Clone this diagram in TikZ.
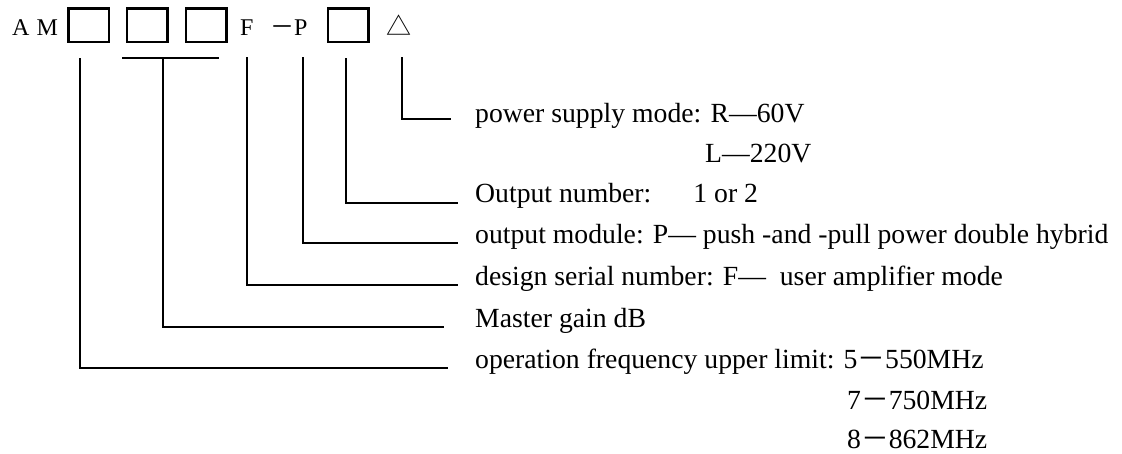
\documentclass[tikz,border=0pt]{standalone}
\usepackage{fontspec}
\setmainfont{Liberation Serif}
\newfontfamily\cjk{Noto Sans CJK SC}
\usetikzlibrary{calc}
\begin{document}
\begin{tikzpicture}[x=1pt,y=1pt,
  code/.style={draw, line width=2.5pt, minimum width=40.5pt, minimum height=33.5pt, inner sep=0pt},
  toptext/.style={anchor=base west, inner sep=0pt, font=\fontsize{24}{30}\selectfont},
  lbl/.style={anchor=base west, inner sep=0pt, font=\fontsize{27.7}{33}\selectfont},
  conn/.style={line width=1.8pt}]
\useasboundingbox (0,0) rectangle (1122,-453);
% code row
\node[toptext] (am) at (12,-35) {A\hspace{7pt}M};
\node[code] (b1) at (88.5,-25) {};
\node[code] (b2) at (147,-25) {};
\node[code] (b3) at (206,-25) {};
\node[toptext] (f) at (240,-35) {F};
\node[toptext] (p) at (270,-35) {{\cjk －}P};
\node[code] (b4) at (348,-25) {};
\node[toptext] (tri) at (386,-35) {{\fontsize{25}{30}\selectfont\cjk △}};
% labels
\node[lbl] (pw) at (475,-122) {power supply mode: R—60V};
\node[lbl] (pw2) at (705,-162) {L—220V};
\node[lbl] (on) at (475,-202) {Output number:\hspace{42pt}1 or 2};
\node[lbl] (om) at (475,-243) {output module: P— push -and -pull power double hybrid};
\node[lbl] (ds) at (475,-285) {design serial number: F—~ user amplifier mode};
\node[lbl] (mg) at (475,-327) {Master gain dB};
\node[lbl] (of) at (475,-368) {operation frequency upper limit: 5{\cjk －}550MHz};
\node[lbl] (of2) at (847,-409) {7{\cjk －}750MHz};
\node[lbl] (of3) at (847,-448) {8{\cjk －}862MHz};
% connectors
\draw[conn] ([xshift=-8.5pt,yshift=-15pt]b1.south) |- ([xshift=-27pt]of.base west);
\draw[conn] ([xshift=-25pt,yshift=-15pt]b2.south) -- ([xshift=13pt,yshift=-15pt]b3.south);
\draw[conn] ([xshift=16pt,yshift=-15pt]b2.south) |- ([xshift=-31pt]mg.base west);
\draw[conn] ([yshift=-22pt]f.base) |- ([xshift=-17pt]ds.base west);
\draw[conn] ([xshift=-5pt,yshift=-22pt]p.base east) |- ([xshift=-17pt]om.base west);
\draw[conn] ([xshift=-2pt,yshift=-15pt]b4.south) |- ([xshift=-17pt,yshift=-1pt]on.base west);
\draw[conn] ([xshift=3.5pt,yshift=-22pt]tri.base) |- ([xshift=-24pt,yshift=3pt]pw.base west);
\end{tikzpicture}
\end{document}
